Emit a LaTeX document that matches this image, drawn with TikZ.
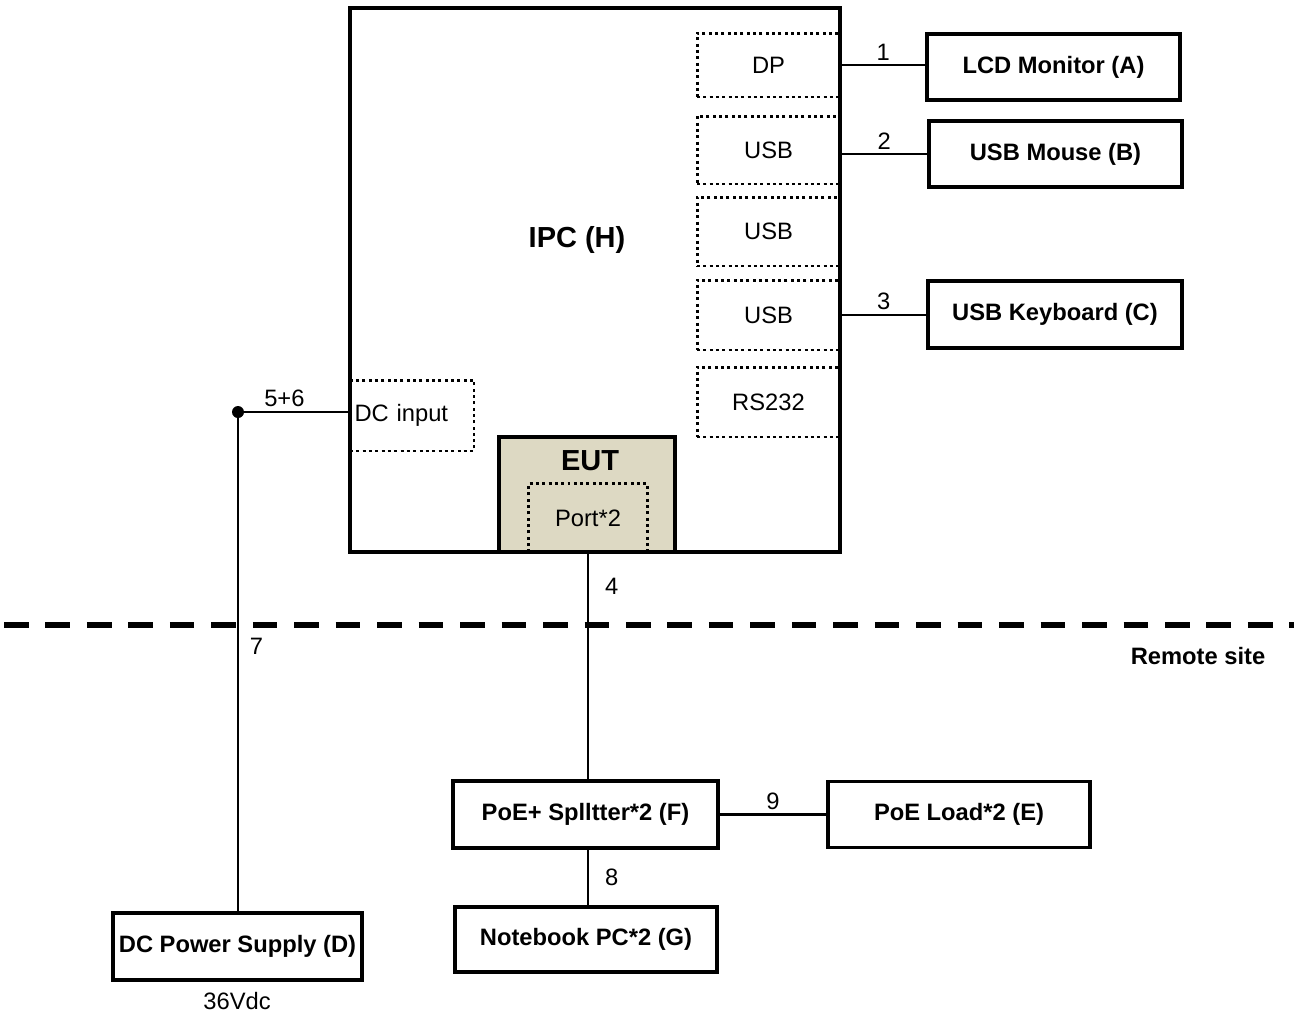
\documentclass[tikz,border=0pt]{standalone}
\usepackage{fontspec}
\setmainfont{Liberation Sans}
\usetikzlibrary{positioning}
\definecolor{eutfill}{HTML}{DDD9C3}
\tikzset{
    %Define standard text
    font=\fontsize{13.5}{16}\selectfont,
    %Define style for device boxes
    geraet/.style={
           rectangle,
           draw=black, line width=2.2pt,
           inner sep=0pt,
           font=\fontsize{13.5}{16}\selectfont\bfseries,
           text centered},
    % Define style for dotted port boxes
    anschluss/.style={
           rectangle,
           draw=black, line width=1.7pt,
           dash pattern=on 1.7pt off 1.9pt,
           inner sep=0pt,
           minimum width=2.86cm,
           text centered},
    % Define cable style
    kabel/.style={
           line width=1.6pt},
    % Define label style for cable numbers
    nummer/.style={inner sep=2pt},
    titel/.style={font=\fontsize{16.5}{20}\selectfont\bfseries}
}

\begin{document}
\begin{tikzpicture}[x=0.02cm,y=-0.02cm]
  \useasboundingbox (0,0) rectangle (1294,1015);
  % IPC with its ports
  \node[draw, line width=1.8pt, minimum width=9.8cm, minimum height=10.88cm, inner sep=0pt] (ipc) at (595,280) {};
  \node[titel] (ipctext) at (577,240) {IPC (H)};
  \node[anschluss, minimum height=1.28cm] (dp) at (768.5,65) {DP};
  \node[anschluss, minimum height=1.36cm] (usba) at (768.5,150) {USB};
  \node[anschluss, minimum height=1.38cm] (usbb) at (768.5,231.5) {USB};
  \node[anschluss, minimum height=1.40cm] (usbc) at (768.5,315) {USB};
  \node[anschluss, minimum height=1.40cm] (rs) at (768.5,402) {RS232};
  \node[anschluss, minimum width=2.48cm, minimum height=1.42cm, text width=2.3cm, inner xsep=0.09cm, align=left] (dcin) at (412,415.5) {DC input};
  % EUT
  \node[draw, fill=eutfill, line width=2.2pt, minimum width=3.52cm, minimum height=2.3cm, inner sep=0pt] (eut) at (587,494.5) {};
  \node[titel] (euttext) at (590,461) {EUT};
  \node[minimum width=2.36cm, minimum height=1.36cm, inner sep=0pt] (port) at (588,518) {Port*2};
  \draw[line width=1.7pt, dash pattern=on 1.7pt off 1.9pt] (port.south west) |- (port.north east) -- (port.south east);
  % devices
  \node[geraet, minimum width=5.06cm, minimum height=1.32cm] (lcd) at (1053.5,67) {LCD Monitor (A)};
  \node[geraet, minimum width=5.06cm, minimum height=1.32cm] (maus) at (1055.5,154) {USB Mouse (B)};
  \node[geraet, minimum width=5.08cm, minimum height=1.34cm] (tastatur) at (1055,314.5) {USB Keyboard (C)};
  \node[geraet, minimum width=4.98cm, minimum height=1.34cm] (netzteil) at (237.5,946.5) {DC Power Supply (D)};
  \node (volt) at (237,1001) {36Vdc};
  \node[geraet, minimum width=5.3cm, minimum height=1.34cm] (splitter) at (585.5,814.5) {PoE+ Splltter*2 (F)};
  \node[geraet, minimum width=5.24cm, minimum height=1.32cm] (last) at (959,814.5) {PoE Load*2 (E)};
  \node[geraet, minimum width=5.24cm, minimum height=1.3cm] (notebook) at (586,939.5) {Notebook PC*2 (G)};
  % site border
  \draw[line width=3.4pt, dash pattern=on 14pt off 9.6pt] (4,625) -- (1294,625);
  \node[font=\fontsize{13.5}{16}\selectfont\bfseries] (remote) at (1198,656) {Remote site};
  % cables
  \coordinate (knoten) at (238,412);
  \draw[kabel] (dp.east) -- node[nummer, above] {1} (dp.east -| lcd.west);
  \draw[kabel] (usba.east |- maus.west) -- node[nummer, above] {2} (maus.west);
  \draw[kabel] (usbc.east) -- node[nummer, above] {3} (usbc.east -| tastatur.west);
  \draw[kabel] (port.south) -- node[nummer, right, inner xsep=9pt, pos=0.15] {4} (port.south |- splitter.north);
  \draw[kabel] (knoten) -- node[nummer, above, pos=0.42] {5+6} (knoten -| dcin.west);
  \draw[kabel] (knoten) -- node[nummer, right, inner xsep=6pt, pos=0.47] {7} (knoten |- netzteil.north);
  \draw[kabel] (splitter.south -| port.south) -- node[nummer, right, inner xsep=9pt] {8} (notebook.north -| port.south);
  \draw[kabel] (splitter.east) -- node[nummer, above] {9} (last.west);
  \fill (knoten) circle (6);
\end{tikzpicture}
\end{document}
